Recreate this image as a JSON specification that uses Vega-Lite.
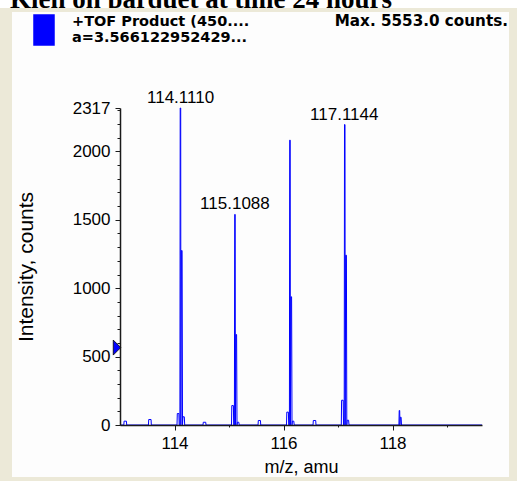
{
  "$schema": "https://vega.github.io/schema/vega-lite/v6.json",
  "width": 362,
  "height": 317,
  "autosize": {"type": "none"},
  "padding": {"left": 120, "top": 108, "right": 35, "bottom": 56},
  "background": "white",
  "datasets": {
    "spectrum": [
      {"mz": 113.000, "intensity": 0},
      {"mz": 113.070, "intensity": 0},
      {"mz": 113.075, "intensity": 28},
      {"mz": 113.118, "intensity": 28},
      {"mz": 113.123, "intensity": 0},
      {"mz": 113.522, "intensity": 0},
      {"mz": 113.527, "intensity": 40},
      {"mz": 113.570, "intensity": 40},
      {"mz": 113.575, "intensity": 0},
      {"mz": 114.0459, "intensity": 0},
      {"mz": 114.0514, "intensity": 84},
      {"mz": 114.0807, "intensity": 84},
      {"mz": 114.0862, "intensity": 0},
      {"mz": 114.0991, "intensity": 0},
      {"mz": 114.1046, "intensity": 2317},
      {"mz": 114.1138, "intensity": 2317},
      {"mz": 114.1174, "intensity": 0},
      {"mz": 114.1266, "intensity": 1275},
      {"mz": 114.1395, "intensity": 1275},
      {"mz": 114.1468, "intensity": 0},
      {"mz": 114.1541, "intensity": 60},
      {"mz": 114.1798, "intensity": 60},
      {"mz": 114.1872, "intensity": 0},
      {"mz": 114.523, "intensity": 0},
      {"mz": 114.528, "intensity": 20},
      {"mz": 114.573, "intensity": 20},
      {"mz": 114.578, "intensity": 0},
      {"mz": 115.0459, "intensity": 0},
      {"mz": 115.0514, "intensity": 142},
      {"mz": 115.0807, "intensity": 142},
      {"mz": 115.0862, "intensity": 0},
      {"mz": 115.0991, "intensity": 0},
      {"mz": 115.1046, "intensity": 1539},
      {"mz": 115.1138, "intensity": 1539},
      {"mz": 115.1174, "intensity": 0},
      {"mz": 115.1266, "intensity": 661},
      {"mz": 115.1395, "intensity": 661},
      {"mz": 115.1468, "intensity": 0},
      {"mz": 115.1541, "intensity": 20},
      {"mz": 115.1798, "intensity": 20},
      {"mz": 115.1872, "intensity": 0},
      {"mz": 115.533, "intensity": 0},
      {"mz": 115.538, "intensity": 33},
      {"mz": 115.577, "intensity": 33},
      {"mz": 115.582, "intensity": 0},
      {"mz": 116.0551, "intensity": 0},
      {"mz": 116.0606, "intensity": 94},
      {"mz": 116.0899, "intensity": 94},
      {"mz": 116.0954, "intensity": 0},
      {"mz": 116.1083, "intensity": 0},
      {"mz": 116.1138, "intensity": 2082},
      {"mz": 116.1230, "intensity": 2082},
      {"mz": 116.1266, "intensity": 0},
      {"mz": 116.1358, "intensity": 937},
      {"mz": 116.1487, "intensity": 937},
      {"mz": 116.1560, "intensity": 0},
      {"mz": 116.1633, "intensity": 28},
      {"mz": 116.1890, "intensity": 28},
      {"mz": 116.1964, "intensity": 0},
      {"mz": 116.542, "intensity": 0},
      {"mz": 116.547, "intensity": 33},
      {"mz": 116.591, "intensity": 33},
      {"mz": 116.596, "intensity": 0},
      {"mz": 117.0606, "intensity": 0},
      {"mz": 117.0661, "intensity": 181},
      {"mz": 117.0954, "intensity": 181},
      {"mz": 117.1009, "intensity": 0},
      {"mz": 117.1138, "intensity": 0},
      {"mz": 117.1193, "intensity": 2196},
      {"mz": 117.1285, "intensity": 2196},
      {"mz": 117.1321, "intensity": 0},
      {"mz": 117.1413, "intensity": 1241},
      {"mz": 117.1542, "intensity": 1241},
      {"mz": 117.1615, "intensity": 0},
      {"mz": 117.1688, "intensity": 35},
      {"mz": 117.1945, "intensity": 35},
      {"mz": 117.2019, "intensity": 0},
      {"mz": 118.1174, "intensity": 0},
      {"mz": 118.1229, "intensity": 106},
      {"mz": 118.1321, "intensity": 106},
      {"mz": 118.1357, "intensity": 0},
      {"mz": 118.1449, "intensity": 57},
      {"mz": 118.1578, "intensity": 57},
      {"mz": 118.1651, "intensity": 0},
      {"mz": 119.642, "intensity": 0}
    ],
    "peaks": [
      {"mz": 114.111, "intensity": 2317, "label": "114.1110"},
      {"mz": 115.1088, "intensity": 1539, "label": "115.1088"},
      {"mz": 117.1144, "intensity": 2196, "label": "117.1144"}
    ]
  },
  "layer": [
    {
      "data": {"values": [{"text": "Kleh on parquet at time 24 hours"}]},
      "mark": {"type": "text", "align": "left", "baseline": "alphabetic", "font": "Liberation Serif", "fontWeight": "bold", "fontSize": 27, "color": "#000000"},
      "encoding": {
        "x": {"datum": 110.982, "type": "quantitative", "scale": {"domain": [113, 119.642], "nice": false, "zero": false}, "axis": null},
        "y": {"datum": 3051, "type": "quantitative", "scale": {"domain": [0, 2317], "nice": false}, "axis": null},
        "text": {"field": "text"}
      }
    },
    {
      "data": {"values": [{}]},
      "mark": {"type": "rect", "color": "#ECE9D8"},
      "encoding": {
        "x": {"datum": 110.79, "type": "quantitative", "scale": {"domain": [113, 119.642], "nice": false, "zero": false}, "axis": null},
        "x2": {"datum": 120.3},
        "y": {"datum": 3048, "type": "quantitative", "scale": {"domain": [0, 2317], "nice": false}, "axis": null},
        "y2": {"datum": -420}
      }
    },
    {
      "data": {"values": [{}]},
      "mark": {"type": "rect", "color": "#FDFDFD"},
      "encoding": {
        "x": {"datum": 111.018, "type": "quantitative", "scale": {"domain": [113, 119.642], "nice": false, "zero": false}, "axis": null},
        "x2": {"datum": 120.138},
        "y": {"datum": 3018, "type": "quantitative", "scale": {"domain": [0, 2317], "nice": false}, "axis": null},
        "y2": {"datum": -380}
      }
    },
    {
      "data": {"name": "spectrum"},
      "mark": {"type": "line", "strokeWidth": 1, "interpolate": "linear"},
      "encoding": {
        "x": {
          "field": "mz", "type": "quantitative",
          "scale": {"domain": [113, 119.642], "nice": false, "zero": false},
          "axis": {"values": [114, 116, 118], "format": "d", "title": "m/z, amu", "tickSize": 5, "labelPadding": 5, "titlePadding": 7, "titleFontSize": 18, "zindex": 1, "orient": "bottom"}
        },
        "y": {
          "field": "intensity", "type": "quantitative",
          "scale": {"domain": [0, 2317], "nice": false},
          "axis": {"values": [0, 500, 1000, 1500, 2000, 2317], "format": "d", "title": "Intensity, counts", "tickSize": 5, "labelPadding": 5, "titlePadding": 36, "titleFontSize": 21, "zindex": 1, "orient": "left"}
        },
        "color": {
          "datum": "+TOF Product (450....",
          "scale": {"range": ["#0000FF"]},
          "legend": {
            "orient": "none",
            "legendX": -92,
            "legendY": -94,
            "padding": 0,
            "title": null,
            "symbolType": "M-0.667,-1H0.667V1H-0.667Z",
            "symbolSize": 900,
            "symbolStrokeWidth": 1.5,
            "symbolFillColor": "#0000FF",
            "symbolStrokeColor": "#000000",
            "labelFont": "DejaVu Sans",
            "labelFontWeight": "bold",
            "labelFontSize": 14.5,
            "labelColor": "#000000",
            "labelLimit": 400,
            "labelOffset": 12,
            "labelBaseline": "alphabetic",
            "labelExpr": "['\u00a0' + datum.label, 'a=3.566122952429...']",
            "encode": {
              "symbols": {"update": {"fill": {"value": "#0000FF"}, "stroke": {"value": "#000000"}, "opacity": {"value": 1}, "strokeWidth": {"value": 1.5}, "size": {"value": 900}}},
              "labels": {"update": {"lineHeight": {"value": 16}, "dy": {"value": -4}}}
            }
          }
        }
      }
    },
    {
      "data": {"name": "peaks"},
      "mark": {"type": "text", "font": "Liberation Sans", "fontSize": 17, "baseline": "alphabetic", "align": "center", "dy": -5, "color": "#000000"},
      "encoding": {
        "x": {
          "field": "mz", "type": "quantitative",
          "scale": {"domain": [113, 119.642], "nice": false, "zero": false},
          "axis": {"values": [115, 117, 119], "labels": false, "domain": false, "tickSize": 2, "title": null, "orient": "bottom", "zindex": 1}
        },
        "y": {
          "field": "intensity", "type": "quantitative",
          "scale": {"domain": [0, 2317], "nice": false},
          "axis": {"values": [100, 200, 300, 400, 600, 700, 800, 900, 1100, 1200, 1300, 1400, 1600, 1700, 1800, 1900, 2100, 2200, 2300], "labels": false, "domain": false, "tickSize": 3, "title": null, "orient": "left", "zindex": 1}
        },
        "text": {"field": "label"}
      }
    },
    {
      "data": {"values": [{"text": "Max. 5553.0 counts."}]},
      "mark": {"type": "text", "align": "right", "baseline": "alphabetic", "font": "DejaVu Sans", "fontWeight": "bold", "fontSize": 15.2, "color": "#000000"},
      "encoding": {
        "x": {"datum": 120.119, "type": "quantitative", "scale": {"domain": [113, 119.642], "nice": false, "zero": false}, "axis": null},
        "y": {"datum": 2917, "type": "quantitative", "scale": {"domain": [0, 2317], "nice": false}, "axis": null},
        "text": {"field": "text"}
      }
    },
    {
      "data": {"values": [{"mz": 113, "intensity": 566}]},
      "mark": {"type": "point", "shape": "M-0.5,-1L0.5,0L-0.5,1Z", "size": 225, "filled": true, "color": "#0000FF", "stroke": "#000000", "strokeWidth": 0.8, "opacity": 1, "xOffset": -3},
      "encoding": {
        "x": {"field": "mz", "type": "quantitative", "scale": {"domain": [113, 119.642], "nice": false, "zero": false}, "axis": null},
        "y": {"field": "intensity", "type": "quantitative", "scale": {"domain": [0, 2317], "nice": false}, "axis": null}
      }
    }
  ],
  "resolve": {"axis": {"x": "independent", "y": "independent"}},
  "config": {
    "view": {"stroke": null},
    "axis": {
      "labelFont": "Liberation Sans",
      "labelFontSize": 17,
      "labelColor": "#000000",
      "titleFont": "Liberation Sans",
      "titleFontWeight": "normal",
      "titleColor": "#000000",
      "domainColor": "#1A1A1A",
      "domainWidth": 1.5,
      "tickColor": "#1A1A1A",
      "tickWidth": 1,
      "grid": false
    }
  }
}
